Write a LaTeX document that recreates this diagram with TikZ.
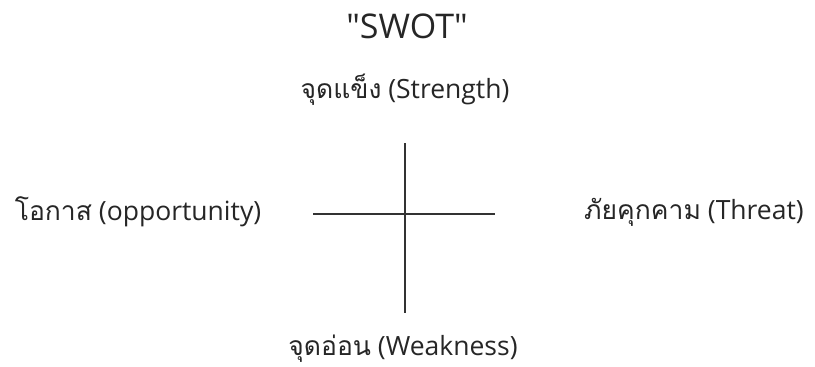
\documentclass[tikz,border=0pt]{standalone}
\usepackage{fontspec}
\setmainfont{Open Sans}[Ligatures=TeXOff]
\newfontfamily\thaifont[Script=Thai]{Loma}
\usepackage{tikz}
\usetikzlibrary{positioning}

\begin{document}
\begin{tikzpicture}[
  x=1pt, y=-1pt,
  lbl/.style={anchor=base, inner sep=0pt, font=\fontsize{26.5}{30}\selectfont, text=black!85},
  title/.style={anchor=base, inner sep=0pt, font=\fontsize{34}{38}\selectfont, text=black!85},
  axis/.style={line width=1.1pt, black!80}
]
\useasboundingbox (0,0) rectangle (815,367);

% Title
\node[title] (swot) at (407, 38) {"SWOT"};

% Axis ends
\coordinate (top) at (405, 143);
\coordinate (bot) at (405, 313);
\coordinate (lft) at (313, 214);
\coordinate (rgt) at (495, 214);

% Labels
\node[lbl] (strength) at (405, 98) {{\thaifont จุดแข็ง} (Strength)};
\node[lbl] (weakness) at (403, 355) {{\thaifont จุดอ่อน} (Weakness)};
\node[lbl] (opport) at (138, 220) {{\thaifont โอกาส} (opportunity)};
\node[lbl] (threat) at (694, 219) {{\thaifont ภัยคุกคาม} (Threat)};

% Cross
\draw[axis] (top) -- (bot);
\draw[axis] (lft) -- (rgt);

\end{tikzpicture}
\end{document}
